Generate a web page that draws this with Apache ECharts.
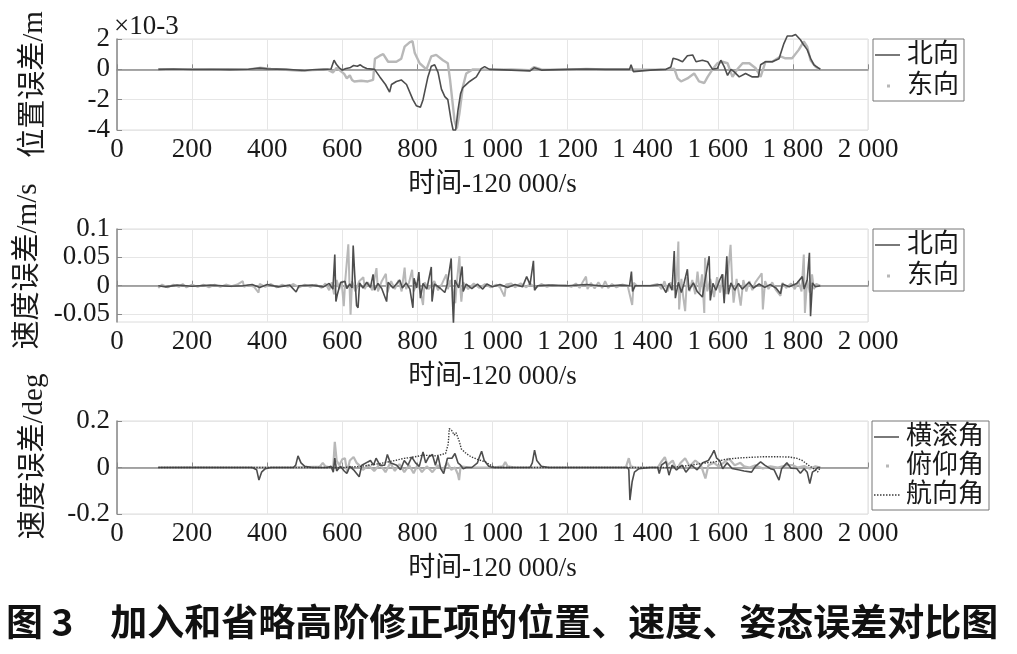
<!DOCTYPE html>
<html><head><meta charset="utf-8">
<script src="https://cdn.jsdelivr.net/npm/echarts@6/dist/echarts.min.js"></script>
<style>html,body{margin:0;padding:0;background:#fff}#c{width:1017px;height:654px}</style>
</head><body><div id="c"></div>
<script>
// ---------- data ----------
const xTicks = [0,200,400,600,800,1000,1200,1400,1600,1800,2000];
const posTicks = [-4,-2,0,2];
const velTicks = [-0.05,0,0.05,0.1];
const attTicks = [-0.2,0,0.2];

const posNorth = [[110,0],[150,0.02],[200,-0.01],[250,0.01],[300,-0.02],[350,0.01],[380,0.08],[400,0.03],[450,0],[500,-0.08],[520,-0.03],[550,0],[570,0.02],[578,0.6],[585,0.3],[592,0.1],[600,-0.05],[610,0.05],[620,0.1],[630,0.25],[640,0.2],[648,0.3],[656,0.15],[665,0.05],[686,0],[700,-0.5],[715,-1.0],[726,-1.5],[731,-1.0],[744,-0.8],[757,-0.7],[771,-1.0],[788,-2.0],[797,-2.4],[808,-2.5],[815,-2.0],[828,-0.5],[837,0.2],[846,0.3],[855,-0.2],[864,-1.3],[873,-1.8],[881,-2.0],[890,-3.4],[895,-4.0],[902,-4.0],[908,-2.7],[915,-1.6],[921,-1.2],[939,-0.8],[957,-0.5],[970,0.05],[979,0.18],[992,0],[1050,-0.05],[1100,-0.1],[1111,0.1],[1130,-0.05],[1200,0],[1250,0.02],[1300,0],[1365,0],[1369,0.3],[1375,-0.15],[1420,-0.05],[1462,0],[1475,0.15],[1481,0.73],[1493,0.65],[1506,0.5],[1519,0.9],[1533,0.95],[1542,0.5],[1559,0.6],[1573,0.5],[1586,0],[1599,0.07],[1608,0.6],[1617,0.18],[1626,-0.4],[1635,0],[1643,-0.15],[1657,-0.5],[1674,-0.27],[1692,-0.5],[1708,-0.5],[1714,0.3],[1727,0.5],[1745,0.5],[1763,0.7],[1776,1.7],[1785,2.2],[1798,2.2],[1807,2.3],[1820,1.95],[1829,1.6],[1838,1.3],[1847,0.73],[1856,0.3],[1873,0]];
const posEast = [[110,0],[150,-0.02],[200,0.01],[250,-0.02],[300,0.01],[350,0],[380,0.1],[410,0.02],[450,-0.03],[490,-0.1],[520,-0.05],[560,0],[575,-0.2],[585,0.1],[595,-0.1],[605,-0.3],[612,-0.6],[620,-0.4],[626,-0.7],[632,-0.8],[650,-0.75],[668,-0.8],[682,-0.7],[687,0.7],[700,0.9],[709,1.0],[722,0.5],[744,0.5],[757,0.7],[766,1.5],[780,1.8],[787,1.85],[793,1.07],[806,0.4],[824,0],[837,0.85],[850,0.95],[868,0.6],[881,0.4],[887,-0.7],[899,-3.4],[905,-3.9],[912,-2.9],[921,-1.15],[930,-0.27],[948,0],[1000,-0.03],[1050,0],[1100,-0.05],[1111,0.15],[1130,0],[1200,-0.02],[1250,0.03],[1300,0],[1365,0],[1370,-0.1],[1420,-0.03],[1470,0],[1484,0.05],[1493,-0.6],[1502,-0.8],[1519,-0.6],[1537,-0.27],[1550,-0.8],[1564,-0.9],[1573,-0.5],[1586,0],[1599,0.4],[1612,0.5],[1626,0.4],[1639,-0.5],[1652,0],[1666,0.4],[1684,0.4],[1701,0.07],[1714,-0.5],[1727,0.5],[1745,0.5],[1767,0.85],[1780,0.73],[1798,0.73],[1816,1.3],[1829,1.85],[1838,1.5],[1847,0.6],[1860,0.18],[1873,0]];

const velNorth = [[110,0],[130,-0.002],[160,0.001],[200,-0.001],[250,0.001],[300,-0.001],[335,0],[360,0.002],[380,-0.003],[400,0.002],[430,-0.002],[460,0.001],[477,-0.011],[485,0],[520,0.001],[550,-0.002],[565,0.004],[575,-0.006],[580,0.055],[583,-0.028],[587,-0.015],[595,0.005],[607,0.008],[612,-0.005],[620,0.003],[626,-0.004],[629,0.071],[633,0.02],[638,-0.035],[642,-0.039],[646,0.005],[655,-0.004],[665,0.006],[675,-0.003],[682,0.02],[686,-0.008],[695,0.004],[705,-0.005],[718,-0.028],[722,0.006],[735,-0.004],[753,0.01],[760,-0.004],[770,0.005],[780,-0.006],[788,-0.039],[791,0.013],[798,-0.004],[804,0.024],[808,-0.022],[815,0.004],[825,-0.006],[837,0.033],[839,-0.028],[845,0.003],[860,-0.004],[873,-0.012],[880,0.004],[890,0.048],[893,-0.02],[896,-0.066],[900,0.01],[910,-0.004],[919,0.034],[922,-0.01],[930,0.003],[945,-0.005],[960,0.003],[974,-0.006],[985,0.003],[1000,-0.002],[1020,0.002],[1040,-0.003],[1060,0.002],[1080,-0.002],[1091,0.016],[1100,0.002],[1109,0.044],[1112,-0.008],[1120,0],[1150,0.001],[1200,0],[1250,0.002],[1300,-0.001],[1340,0.001],[1365,0],[1370,0.025],[1373,-0.01],[1380,0],[1420,0],[1450,0.002],[1462,-0.012],[1470,0.004],[1478,-0.008],[1484,0.061],[1487,-0.022],[1495,0.006],[1503,-0.012],[1510,0.004],[1519,0.029],[1523,-0.008],[1535,0.005],[1545,-0.01],[1559,-0.02],[1565,0.006],[1577,0.052],[1580,-0.026],[1587,0.004],[1595,-0.008],[1605,0.01],[1612,0.02],[1617,-0.031],[1624,0.052],[1628,-0.015],[1635,0.005],[1645,-0.008],[1655,0.004],[1665,-0.006],[1683,0.006],[1695,-0.004],[1710,0.003],[1725,-0.003],[1740,0.002],[1755,-0.004],[1767,-0.014],[1772,0.003],[1790,-0.002],[1810,0.004],[1825,0.016],[1830,-0.006],[1838,0.01],[1844,0.058],[1847,-0.054],[1852,0.005],[1860,-0.002],[1873,0]];
const velEast = [[110,-0.004],[120,0.002],[135,-0.003],[150,0.002],[165,-0.002],[175,0.003],[185,-0.003],[200,0.002],[215,-0.002],[230,0.002],[245,-0.003],[260,0.002],[275,-0.002],[290,0.002],[305,-0.001],[320,0.002],[335,0.008],[338,-0.002],[350,0.001],[365,-0.002],[377,-0.012],[380,0.003],[395,-0.002],[410,0.003],[425,-0.003],[440,0.002],[455,-0.002],[470,0.003],[485,-0.003],[500,0.002],[515,-0.002],[530,0.002],[545,-0.004],[555,0.004],[565,-0.008],[572,0.006],[578,-0.015],[585,0.01],[592,-0.006],[598,0.008],[604,-0.036],[608,0.01],[616,0.073],[619,0.005],[622,-0.051],[626,0.008],[635,-0.01],[645,0.008],[656,0.015],[660,-0.006],[668,0.006],[680,-0.008],[691,0.031],[695,-0.01],[705,0.008],[716,0.021],[720,-0.012],[730,0.008],[740,-0.006],[750,0.01],[758,-0.01],[766,0.032],[770,-0.006],[778,0.006],[786,0.028],[790,-0.01],[800,0.006],[808,-0.01],[815,-0.034],[819,0.006],[830,-0.006],[845,0.008],[855,-0.008],[866,0.004],[877,0.02],[881,-0.006],[888,0.01],[901,-0.031],[905,0.006],[912,0.052],[915,-0.01],[917,-0.028],[922,0.006],[935,-0.006],[950,0.004],[965,-0.004],[980,0.003],[995,-0.003],[1010,0.002],[1020,-0.003],[1032,-0.019],[1036,0.002],[1050,0.004],[1060,-0.003],[1075,0.004],[1090,-0.003],[1100,0.004],[1115,-0.004],[1130,0.003],[1145,-0.002],[1160,0.001],[1175,0],[1195,0.001],[1210,-0.002],[1222,0.004],[1232,-0.004],[1240,0.006],[1249,0.016],[1253,-0.006],[1262,0.005],[1272,-0.005],[1282,0.006],[1292,-0.004],[1300,0.008],[1308,-0.004],[1318,0.003],[1330,-0.003],[1345,0.002],[1360,0],[1372,-0.034],[1376,0.005],[1385,0],[1420,0],[1440,0.003],[1450,-0.006],[1458,0.008],[1466,-0.01],[1474,0.006],[1482,-0.008],[1490,0.01],[1495,0.078],[1497,-0.042],[1503,0.012],[1508,-0.02],[1513,-0.045],[1518,0.015],[1525,-0.01],[1532,0.01],[1540,-0.015],[1546,0.025],[1552,-0.012],[1558,0.02],[1564,-0.048],[1566,0.049],[1572,-0.01],[1580,0.012],[1590,-0.02],[1598,0.015],[1606,-0.012],[1614,0.02],[1622,-0.015],[1634,0.072],[1638,0.01],[1642,-0.03],[1650,0.012],[1661,-0.035],[1668,0.01],[1676,-0.01],[1684,0.008],[1692,-0.008],[1700,0.006],[1710,0.015],[1717,0.022],[1720,-0.042],[1726,0.008],[1735,-0.006],[1745,0.006],[1755,-0.008],[1767,-0.018],[1772,0.005],[1782,-0.004],[1795,0.004],[1805,-0.006],[1815,0.008],[1823,-0.01],[1829,0.055],[1832,-0.048],[1838,0.01],[1845,-0.012],[1851,0.02],[1856,-0.006],[1862,0.003],[1873,0]];

const attRoll = [[110,0],[200,0],[300,0],[360,0],[372,-0.01],[378,-0.054],[385,-0.02],[395,-0.005],[410,0],[470,0],[476,0.01],[482,0.05],[490,0.02],[500,0.005],[520,0],[560,0],[570,0.005],[576,-0.02],[580,0.04],[585,-0.015],[595,0.005],[605,-0.015],[612,-0.026],[620,0.005],[630,-0.01],[645,-0.04],[652,0.01],[668,0.024],[675,0.03],[683,0.01],[690,0.04],[700,0.01],[713,0.01],[720,0.056],[728,0.02],[745,0.01],[755,-0.01],[765,0.03],[775,0.01],[785,0.045],[795,0.02],[805,0.005],[815,0.067],[822,0.02],[830,0.045],[840,0.056],[848,0.01],[855,0.05],[862,-0.005],[870,-0.026],[880,0.04],[892,0.04],[900,0.06],[908,0.02],[915,0.01],[922,-0.005],[930,0],[945,0],[960,0.02],[965,0.045],[971,0.07],[978,0.03],[990,0.005],[1000,0],[1100,0],[1106,0.02],[1112,0.075],[1118,0.03],[1130,0.005],[1150,0],[1300,0],[1360,0],[1363,-0.01],[1366,-0.14],[1372,-0.06],[1378,-0.02],[1390,-0.005],[1420,0],[1440,0],[1444,-0.026],[1450,0.01],[1462,0.025],[1470,-0.033],[1478,0.01],[1490,-0.01],[1505,0.01],[1515,-0.02],[1530,0.01],[1545,-0.01],[1560,0.02],[1575,0.03],[1584,0.054],[1590,0.074],[1597,0.04],[1605,0.03],[1613,-0.005],[1625,0.02],[1638,-0.004],[1655,-0.01],[1670,-0.015],[1690,-0.02],[1700,0.005],[1714,0.024],[1725,0.01],[1740,-0.005],[1750,-0.01],[1763,-0.054],[1770,-0.005],[1784,0.02],[1795,-0.003],[1810,-0.004],[1820,-0.025],[1830,-0.005],[1838,-0.02],[1845,-0.069],[1852,-0.02],[1860,-0.011],[1866,0],[1873,0]];
const attPitch = [[110,0],[200,0.001],[300,0],[400,0],[470,0],[540,0.004],[548,0.02],[555,0.005],[570,0],[576,0.005],[580,0.11],[585,0.03],[592,0.01],[600,0.035],[607,0.04],[613,-0.02],[620,0.03],[630,0.045],[638,0.02],[645,0.01],[655,-0.01],[670,0.01],[685,-0.015],[700,0.015],[715,-0.02],[728,0.02],[740,-0.015],[752,0.015],[765,-0.02],[778,0.01],[790,-0.025],[800,0.01],[812,-0.02],[825,0.005],[840,-0.02],[855,0.01],[868,-0.01],[880,0.02],[890,-0.01],[900,0],[908,-0.03],[911,-0.054],[915,0.005],[925,0.003],[940,0],[1000,0],[1028,0.005],[1034,0.024],[1040,0.005],[1060,0],[1270,0],[1274,0.005],[1280,0],[1355,0],[1363,0.04],[1368,0.005],[1380,0],[1440,0],[1450,0.025],[1459,0.045],[1466,0.01],[1480,0.03],[1490,-0.01],[1500,0.018],[1513,0.04],[1525,0.005],[1540,0.03],[1555,0.01],[1567,-0.047],[1575,0.01],[1590,0.02],[1602,0.005],[1615,0.02],[1630,0.038],[1645,0.01],[1660,0.02],[1670,0.005],[1685,0],[1700,0.01],[1720,-0.004],[1740,0.005],[1760,0],[1785,0.01],[1800,0.01],[1812,0],[1830,0.006],[1845,-0.005],[1860,0.005],[1873,0]];
const attYaw = [[110,0],[300,0],[500,0],[600,0],[650,0.005],[700,0.017],[740,0.03],[764,0.039],[790,0.045],[815,0.053],[850,0.05],[875,0.06],[882,0.1],[885,0.167],[891,0.16],[898,0.14],[903,0.15],[907,0.146],[912,0.11],[917,0.08],[930,0.06],[943,0.046],[960,0.035],[981,0.024],[995,0.01],[1006,0],[1200,0],[1400,0],[1478,0],[1520,0.008],[1560,0.018],[1592,0.024],[1620,0.035],[1656,0.041],[1690,0.044],[1720,0.046],[1764,0.046],[1790,0.045],[1809,0.04],[1825,0.03],[1841,0.01],[1855,-0.005],[1866,-0.019],[1873,0]];

// ---------- style ----------
const SERIF = "'Liberation Serif','Noto Sans CJK SC',serif";
const TXT = '#1a1a1a';
const DARK = '#4d4d4d', LIGHT = '#b8b8b8', YAW = '#3a3a3a';
const dotIcon = 'path://M0 0h0.05v0.05h-0.05z M12 5.5h3v3h-3z M26.95 13.95h0.05v0.05h-0.05z';
const lineIcon = 'path://M0 0h0.05v0.05h-0.05z M0 6.2h25v1.6h-25z M26.95 13.95h0.05v0.05h-0.05z';
const dottedIcon = 'path://M0 0h0.05v0.05h-0.05z M0 6.3h1.5v1.4h-1.5z M3 6.3h1.5v1.4h-1.5z M6 6.3h1.5v1.4h-1.5z M9 6.3h1.5v1.4h-1.5z M12 6.3h1.5v1.4h-1.5z M15 6.3h1.5v1.4h-1.5z M18 6.3h1.5v1.4h-1.5z M21 6.3h1.5v1.4h-1.5z M24 6.3h1.5v1.4h-1.5z M26.95 13.95h0.05v0.05h-0.05z';

function fmtX(v){ if (v >= 1000){ const r = v % 1000; return Math.floor(v/1000) + ' ' + String(r).padStart(3,'0'); } return String(v); }

const grids = [
  {left:117, right:149, top:39, height:91},
  {left:117, right:149, top:229, height:93},
  {left:117, right:149, top:421, height:93}
].map(g => Object.assign(g, {show:true, borderColor:'#dcdcdc', borderWidth:1, backgroundColor:'transparent'}));

function xAxis(i){
  return {gridIndex:i, type:'value', min:0, max:2000, interval:200,
    name:'时间-120 000/s', nameLocation:'middle', nameGap:41,
    nameTextStyle:{fontFamily:SERIF, fontSize:27, color:TXT},
    axisLine:{lineStyle:{color:'#8a8a8a', width:1.5}},
    axisTick:{inside:true, length:5, lineStyle:{color:'#8a8a8a'}},
    axisLabel:{formatter:fmtX, fontFamily:SERIF, fontSize:27, color:TXT, margin:6},
    splitLine:{show:true, lineStyle:{color:'#e6e6e6'}}};
}
function yAxis(i, name, min, max, ticks, extra){
  return {gridIndex:i, type:'value', min:min, max:max,
    name:name, nameLocation:'middle', nameGap:68, nameRotate:90,
    nameTextStyle:Object.assign({fontFamily:SERIF, fontSize:29, color:TXT}, extra||{}),
    axisLine:{show:true, lineStyle:{color:'#8a8a8a', width:1.5}},
    axisTick:{show:true, inside:true, length:5, lineStyle:{color:'#8a8a8a'}, customValues:ticks},
    axisLabel:{fontFamily:SERIF, fontSize:27, color:TXT, margin:7, customValues:ticks},
    splitLine:{show:true, lineStyle:{color:'#e6e6e6'}}};
}

const yAxes = [
  Object.assign(yAxis(0,'位置误差/m',-4,2,posTicks), {interval:2}),
  Object.assign(yAxis(1,'速度误差/m/s',-0.064,0.1,velTicks,{padding:[0,0,0,18]}), {splitNumber:3}),
  Object.assign(yAxis(2,'速度误差/deg',-0.2,0.2,attTicks,{padding:[0,0,0,22]}), {interval:0.2})
];

function line(name, data, xi, color, width, type, z, clip){
  return {name:name, type:'line', xAxisIndex:xi, yAxisIndex:xi, data:data, showSymbol:false, symbol:'none',
    clip: clip !== false, z:z, lineStyle:{color:color, width:width, type:type||'solid'}, itemStyle:{color:color}};
}

const legendBase = {orient:'vertical', itemWidth:27, itemHeight:14, itemGap:5,
  textStyle:{fontFamily:SERIF, fontSize:26, color:TXT},
  borderColor:'#777', borderWidth:1, borderRadius:0, padding:[3,5,2,2], backgroundColor:'#fff'};

const option = {
  animation:false,
  backgroundColor:'#fff',
  grid:grids,
  xAxis:[xAxis(0), xAxis(1), xAxis(2)],
  yAxis:yAxes,
  legend:[
    Object.assign({}, legendBase, {left:873, top:39, data:[{name:'北向', icon:lineIcon},{name:'东向', icon:dotIcon}]}),
    Object.assign({}, legendBase, {left:873, top:229, data:[{name:'北向', icon:lineIcon},{name:'东向', icon:dotIcon}]}),
    Object.assign({}, legendBase, {left:872, top:421, itemGap:3, data:[{name:'横滚角', icon:lineIcon},{name:'俯仰角', icon:dotIcon},{name:'航向角', icon:dottedIcon}]})
  ],
  series:[
    line('东向', posEast, 0, LIGHT, 2.4, 'solid', 2, false),
    line('北向', posNorth, 0, DARK, 1.6, 'solid', 3, false),
    line('东向', velEast, 1, LIGHT, 2.0, 'solid', 2),
    line('北向', velNorth, 1, DARK, 1.6, 'solid', 3),
    line('俯仰角', attPitch, 2, LIGHT, 2.2, 'solid', 2),
    line('横滚角', attRoll, 2, DARK, 1.6, 'solid', 3),
    line('航向角', attYaw, 2, YAW, 1.4, 'dotted', 4)
  ],
  graphic:[
    {type:'text', left:114, top:13, style:{text:'×10-3', fontFamily:SERIF, fontSize:27, fill:TXT}},
    {type:'text', left:6, top:603, style:{text:'图 3　加入和省略高阶修正项的位置、速度、姿态误差对比图', fontFamily:"'Noto Sans CJK SC',sans-serif", fontSize:37, fontWeight:'bold', fill:'#111'}}
  ]
};
const chart = echarts.init(document.getElementById('c'), null, {renderer:'canvas'});
chart.setOption(option);
</script>
</body></html>
